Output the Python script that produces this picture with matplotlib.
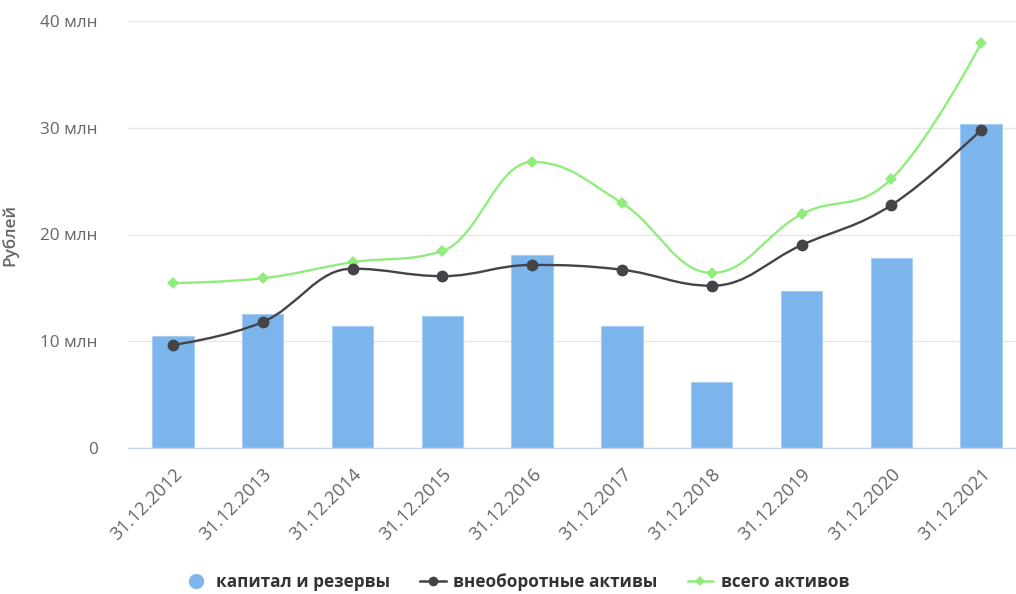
import matplotlib
matplotlib.use("Agg")
import matplotlib.pyplot as plt
from matplotlib.path import Path
from matplotlib.patches import PathPatch
from matplotlib.lines import Line2D
import numpy as np

plt.rcParams['font.family'] = ['Open Sans', 'DejaVu Sans']

categories = ["31.12.2012", "31.12.2013", "31.12.2014", "31.12.2015", "31.12.2016",
              "31.12.2017", "31.12.2018", "31.12.2019", "31.12.2020", "31.12.2021"]
capital = [10.5, 12.55, 11.4, 12.4, 18.1, 11.4, 6.2, 14.7, 17.8, 30.35]
noncurrent = [9.65, 11.8, 16.8, 16.1, 17.15, 16.7, 15.2, 19.0, 22.75, 29.8]
total = [15.45, 15.9, 17.4, 18.45, 26.8, 22.95, 16.4, 21.9, 25.2, 37.9]
yticks = [0, 10, 20, 30, 40]
ytick_labels = ["0", "10 млн", "20 млн", "30 млн", "40 млн"]

C_BAR = "#7cb5ec"
C_BLACK = "#434348"
C_GREEN = "#90ed7d"


def spline_path(xs, ys, smoothing=1.5):
    xs = list(map(float, xs)); ys = list(map(float, ys))
    n = len(xs)
    left = [None] * n
    right = [None] * n
    for i in range(n):
        if i == 0 or i == n - 1:
            left[i] = (xs[i], ys[i]); right[i] = (xs[i], ys[i])
            continue
        d = smoothing + 1
        lx, ly = xs[i - 1], ys[i - 1]
        nx, ny = xs[i + 1], ys[i + 1]
        px, py = xs[i], ys[i]
        lcx = (smoothing * px + lx) / d
        lcy = (smoothing * py + ly) / d
        rcx = (smoothing * px + nx) / d
        rcy = (smoothing * py + ny) / d
        corr = 0.0
        if rcx != lcx:
            corr = (rcy - lcy) * (rcx - px) / (rcx - lcx) + py - rcy
        lcy += corr; rcy += corr
        if lcy > ly and lcy > py:
            lcy = max(ly, py); rcy = 2 * py - lcy
        elif lcy < ly and lcy < py:
            lcy = min(ly, py); rcy = 2 * py - lcy
        if rcy > ny and rcy > py:
            rcy = max(ny, py); lcy = 2 * py - rcy
        elif rcy < ny and rcy < py:
            rcy = min(ny, py); lcy = 2 * py - rcy
        left[i] = (lcx, lcy); right[i] = (rcx, rcy)
    verts = [(xs[0], ys[0])]
    codes = [Path.MOVETO]
    for i in range(1, n):
        verts += [right[i - 1], left[i], (xs[i], ys[i])]
        codes += [Path.CURVE4] * 3
    return Path(verts, codes)


fig = plt.figure(figsize=(10.16, 5.94), dpi=100)
ax = fig.add_axes([128 / 1016, 1 - 448 / 594, (1026 - 128) / 1016, (448 - 21) / 594])

x = np.arange(len(categories))
ax.bar(x, capital, width=0.46, color=C_BAR, edgecolor="#a9cdf2", linewidth=0.8, zorder=2)

for vals, col, mk, ms in [(total, C_GREEN, "D", 6), (noncurrent, C_BLACK, "o", 8.5)]:
    p = spline_path(x, vals)
    ax.add_patch(PathPatch(p, facecolor="none", edgecolor=col, linewidth=1.7, zorder=3,
                           capstyle="round", joinstyle="round"))
    ax.plot(x, vals, linestyle="none", marker=mk, markersize=ms, color=col, zorder=4,
            markeredgewidth=0)

ax.set_xlim(-0.5, len(categories) - 0.5)
ax.set_ylim(0, 40)
ax.set_yticks(yticks)
ax.set_yticklabels(ytick_labels)
ax.grid(axis="y", color="#e6e6e6", linewidth=1.0, zorder=0)
ax.set_axisbelow(True)
for s in ["top", "right", "left"]:
    ax.spines[s].set_visible(False)
ax.spines["bottom"].set_color("#ccd6eb")
ax.spines["bottom"].set_linewidth(1.0)
ax.tick_params(axis="y", length=0, pad=22, labelsize=12.3, labelcolor="#666666")
ax.tick_params(axis="x", length=0, pad=12, labelsize=13.2, labelcolor="#666666")
ax.set_xticks(x)
ax.set_xticklabels(categories, rotation=45, ha="right", rotation_mode="anchor")
ax.set_ylabel("Рублей", color="#666666", fontsize=12.3, fontweight="semibold")
ax.yaxis.set_label_coords(-(128 - 18) / 898, 0.5)

handles = [
    Line2D([], [], linestyle="none", marker="o", markersize=11, color=C_BAR, markeredgewidth=0),
    Line2D([], [], color=C_BLACK, linewidth=1.8, marker="o", markersize=7, markeredgewidth=0),
    Line2D([], [], color=C_GREEN, linewidth=1.8, marker="D", markersize=5, markeredgewidth=0),
]
labels = ["капитал и резервы", "внеоборотные активы", "всего активов"]
leg = fig.legend(handles, labels, loc="center", bbox_to_anchor=(516 / 1016, 1 - 582 / 594),
                 ncol=3, frameon=False, handlelength=1.5, columnspacing=1.75, handletextpad=0.45,
                 prop={"weight": "bold", "size": 12.3})
for t in leg.get_texts():
    t.set_color("#333333")

fig.savefig("out.png", dpi=100)
